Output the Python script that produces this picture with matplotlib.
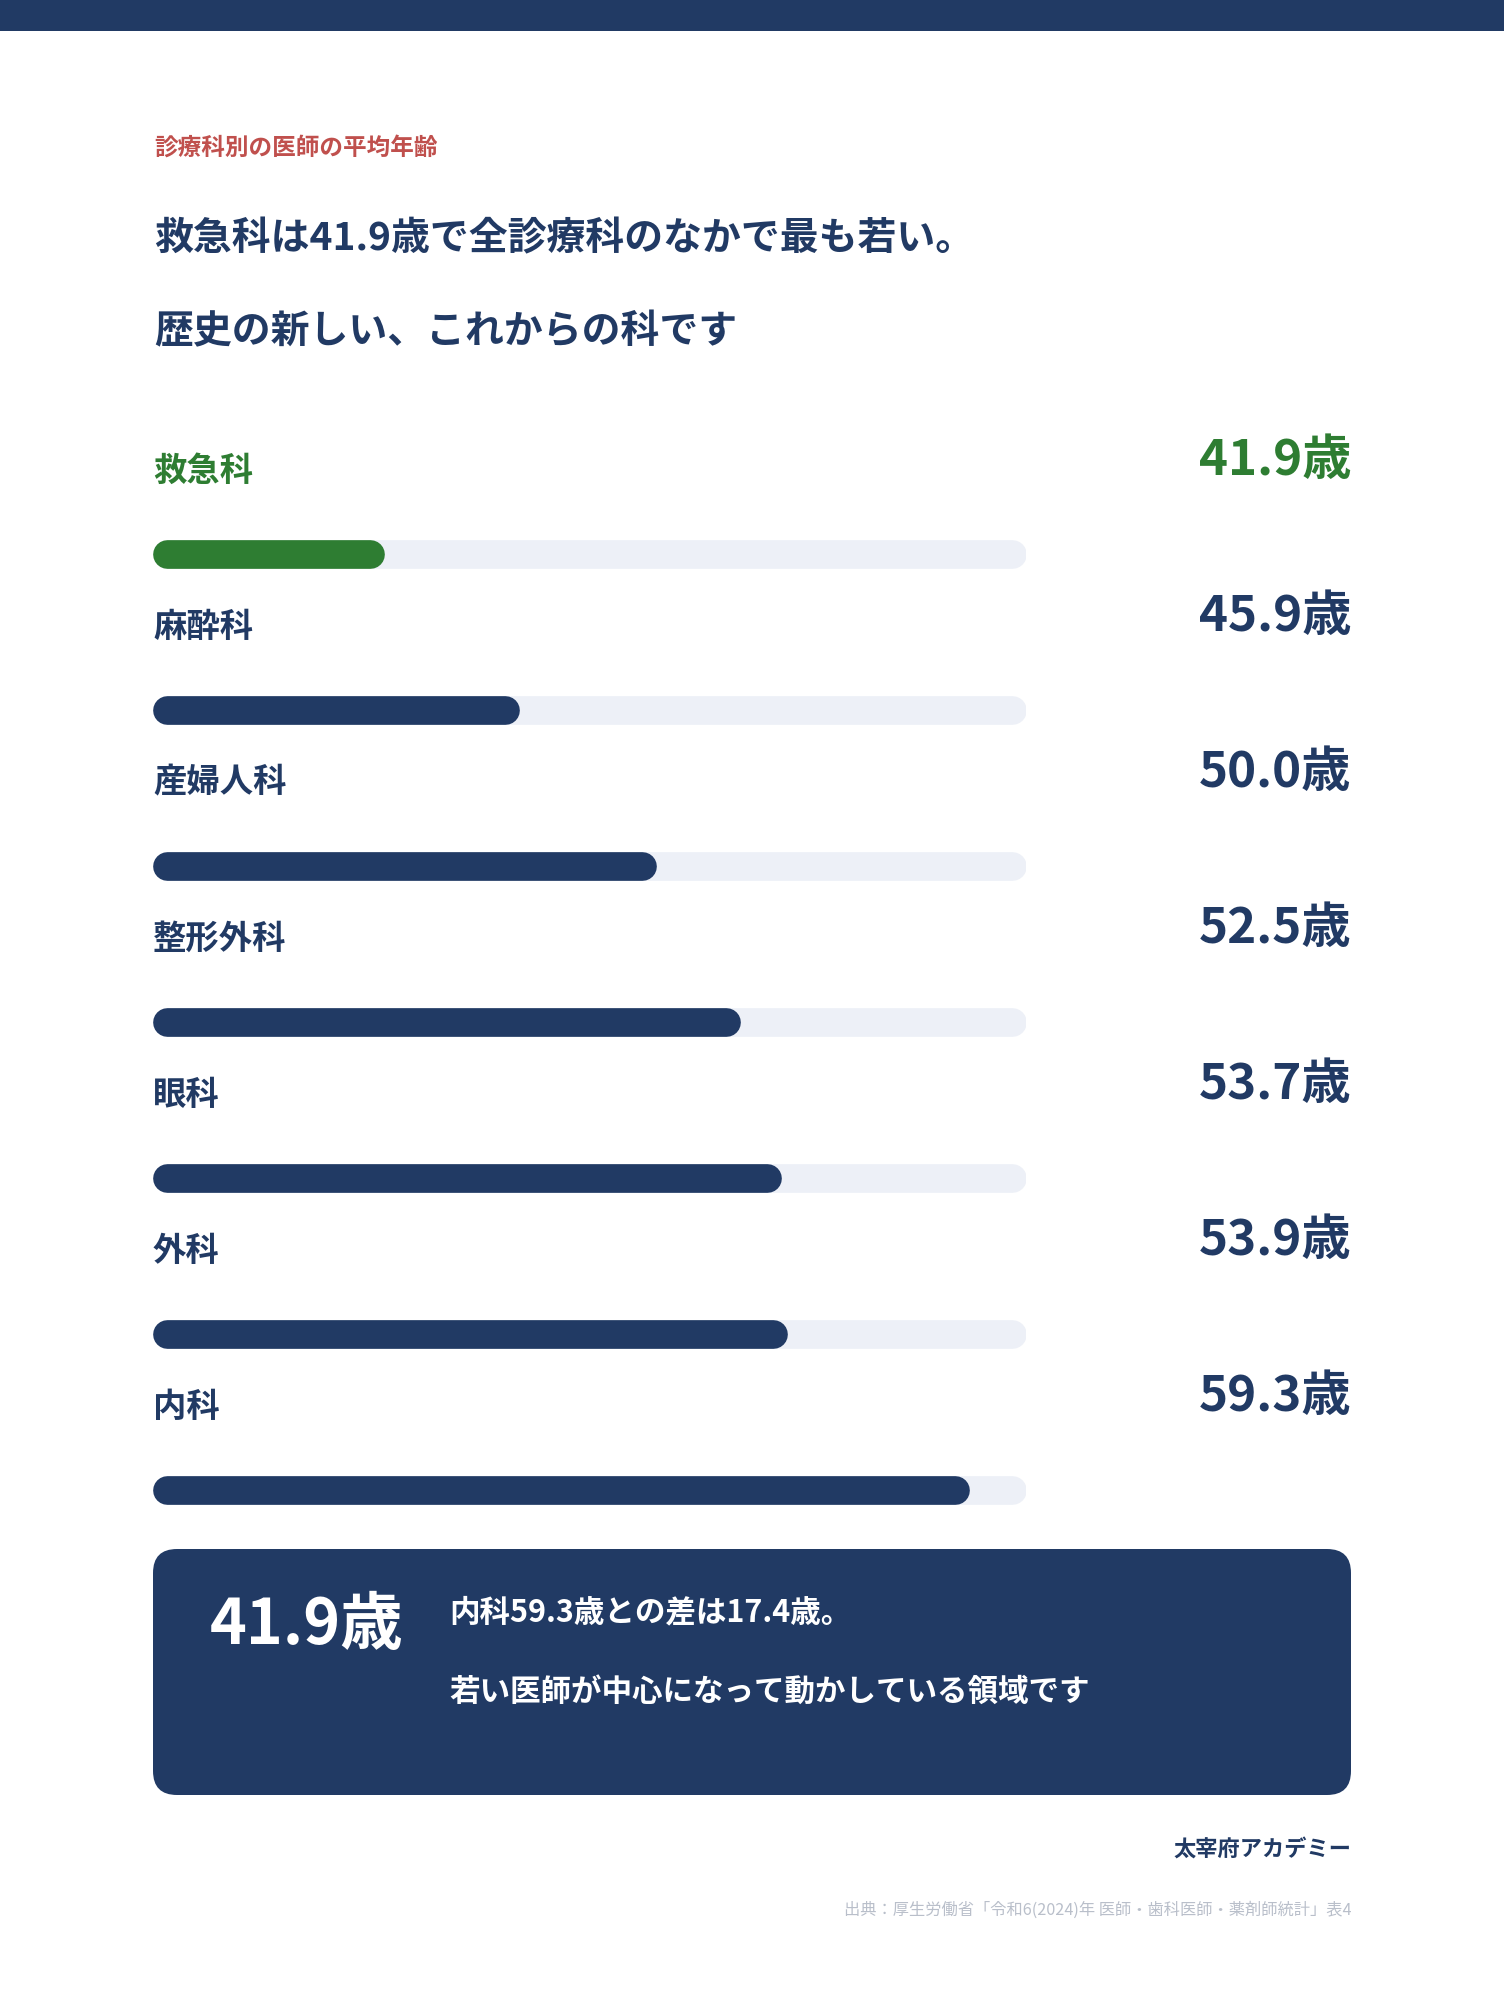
import matplotlib
matplotlib.use("Agg")
import matplotlib.pyplot as plt
from matplotlib import transforms
from matplotlib.patches import FancyBboxPatch, Rectangle

plt.rcParams['font.family'] = ['Noto Sans CJK JP', 'DejaVu Sans']

# データ
departments = ['救急科', '麻酔科', '産婦人科', '整形外科', '眼科', '外科', '内科']
ages = [41.9, 45.9, 50.0, 52.5, 53.7, 53.9, 59.3]
age_min, age_max = 35, 61

kicker = '診療科別の医師の平均年齢'
title_lines = ['救急科は41.9歳で全診療科のなかで最も若い。', '歴史の新しい、これからの科です']
box_number = '41.9歳'
box_lines = ['内科59.3歳との差は17.4歳。', '若い医師が中心になって動かしている領域です']
brand = '太宰府アカデミー'
source = '出典：厚生労働省「令和6(2024)年 医師・歯科医師・薬剤師統計」表4'

NAVY = '#213A64'
GREEN = '#2E7D32'
TRACK = '#EDF0F7'
RED = '#C0504D'
GRAY = '#B9BFCA'

W, H = 1504, 2000
fig = plt.figure(figsize=(W / 100, H / 100), dpi=100)
fig.patch.set_facecolor('white')

# 全体レイアウト用（ピクセル座標）
ax = fig.add_axes([0, 0, 1, 1])
ax.set_xlim(0, W)
ax.set_ylim(H, 0)
ax.axis('off')

ax.add_patch(Rectangle((0, 0), W, 31, color=NAVY, lw=0))

ax.text(154, 148, kicker, color=RED, fontsize=17, fontweight='bold', va='center')
ax.text(154, 239, title_lines[0], color=NAVY, fontsize=28, fontweight='bold', va='center')
ax.text(154, 332, title_lines[1], color=NAVY, fontsize=28, fontweight='bold', va='center')

# バー部分
left_px, right_px = 153, 1026
row_top, row_h = 476, 156
n = len(departments)
bx = fig.add_axes([left_px / W, 1 - (row_top + row_h * n) / H,
                   (right_px - left_px) / W, row_h * n / H])
bx.set_xlim(age_min, age_max)
bx.set_ylim(n - 0.5, -0.5)
bx.axis('off')

bar_px = 28.7
lw = bar_px * 72 / 100
r = (bar_px / 2) * (age_max - age_min) / (right_px - left_px)
blend = transforms.blended_transform_factory(bx.transAxes, bx.transData)
val_x = (1351 - left_px) / (right_px - left_px)

for i, (dep, age) in enumerate(zip(departments, ages)):
    c = GREEN if i == 0 else NAVY
    bx.plot([age_min + r, age_max - r], [i, i], color=TRACK, lw=lw,
            solid_capstyle='round')
    bx.plot([age_min + r, age - r], [i, i], color=c, lw=lw,
            solid_capstyle='round')
    bx.text(0, i - 83 / row_h, dep, transform=blend, color=c, fontsize=24,
            fontweight='bold', va='center', ha='left', clip_on=False)
    bx.text(val_x, i - 94 / row_h, f'{age:.1f}歳', transform=blend, color=c,
            fontsize=35.5, fontweight='bold', va='center', ha='right', clip_on=False)

# まとめボックス
ax.add_patch(FancyBboxPatch((153, 1549), 1351 - 153, 1795 - 1549,
                            boxstyle='round,pad=0,rounding_size=24',
                            fc=NAVY, ec='none'))
ax.text(210, 1626, box_number, color='white', fontsize=45, fontweight='bold', va='center')
ax.text(449, 1612, box_lines[0], color='white', fontsize=22, fontweight='bold', va='center')
ax.text(449, 1692, box_lines[1], color='white', fontsize=22, fontweight='bold', va='center')

ax.text(1351, 1849, brand, color=NAVY, fontsize=16, fontweight='bold', va='center', ha='right')
ax.text(1351, 1910, source, color=GRAY, fontsize=11.7, va='center', ha='right')

fig.savefig('out.png', dpi=100, facecolor='white')
